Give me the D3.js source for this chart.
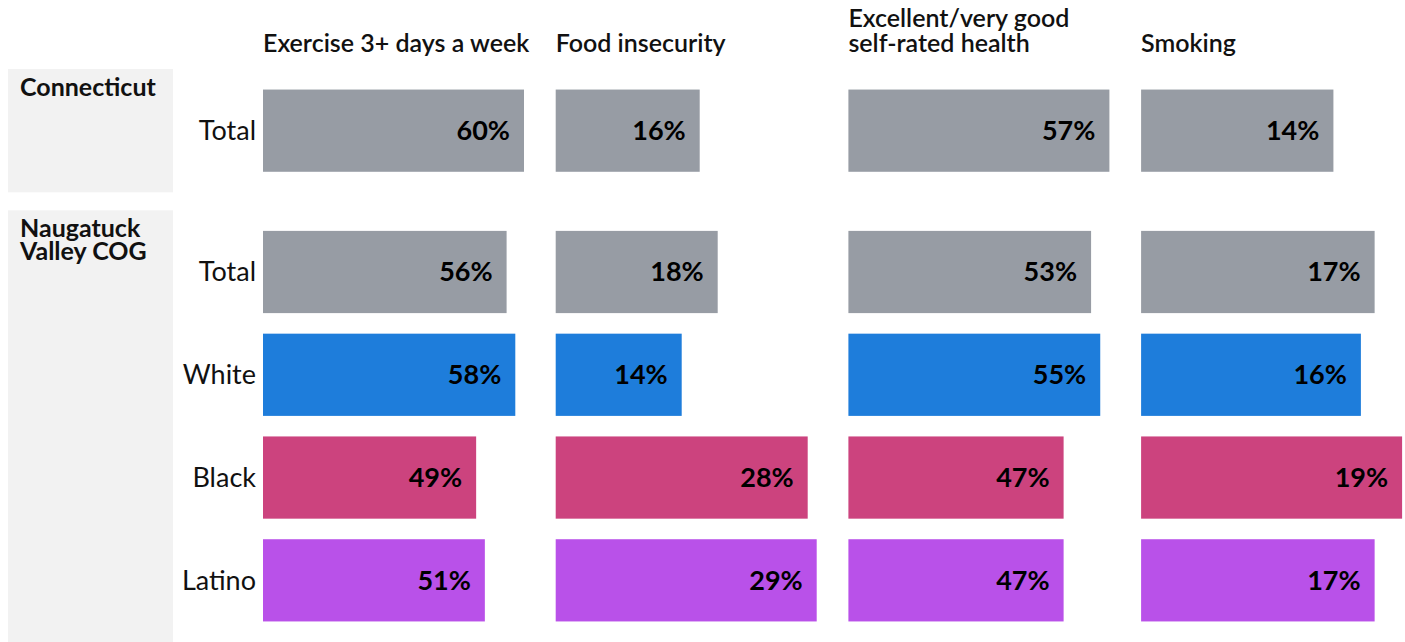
<!DOCTYPE html>
<html>
<head>
<meta charset="utf-8">
<script src="https://cdn.jsdelivr.net/npm/d3@7"></script>
<style>
  body { margin: 0; background: #fff; }
  svg { display: block; font-family: "Source Sans Pro", Lato, "Noto Sans", sans-serif; }
</style>
</head>
<body>
<div id="chart"></div>
<script>
// ---- data ----
const measures = ["Exercise 3+ days a week", "Food insecurity", "Excellent/very good\nself-rated health", "Smoking"];
const regions = ["Connecticut", "Naugatuck Valley COG"];
const ctGroups = ["Total"];
const nvGroups = ["Total", "White", "Black", "Latino"];

// values in order: CT Total, NV Total, NV White, NV Black, NV Latino
const exercise = [60, 56, 58, 49, 51];
const foodInsecurity = [16, 18, 14, 28, 29];
const selfRatedHealth = [57, 53, 55, 47, 47];
const smoking = [14, 17, 16, 19, 17];

const groupColors = { Total: "#979ca4", White: "#1e7ddb", Black: "#cc437e", Latino: "#b951e9" };

// ---- layout ----
const width = 1405, height = 642;
const panelLeft = 263, panelW = 261, panelGap = 31.7;
const plotTop = 69, plotBottom = 642, regionGap = 18;
const stripX = 8, stripW = 165;

const series = [exercise, foodInsecurity, selfRatedHealth, smoking];
const rows = [
  { region: regions[0], groups: ctGroups, offset: 0 },
  { region: regions[1], groups: nvGroups, offset: 1 }
];

const svg = d3.select("#chart").append("svg")
  .attr("width", width).attr("height", height);

// free_y style: panel height proportional to number of bands
const padIn = 0.2, padOut = 0.2;
const units = rows.map(r => r.groups.length - padIn + 2 * padOut);
const unitH = (plotBottom - plotTop - regionGap) / d3.sum(units);

let y0 = plotTop;
rows.forEach((r, ri) => {
  const h = units[ri] * unitH;
  r.y = d3.scaleBand().domain(r.groups).range([y0, y0 + h])
    .paddingInner(padIn).paddingOuter(padOut);
  r.top = y0; r.h = h;
  y0 += h + regionGap;
});

// strip boxes
const strips = svg.selectAll("g.strip").data(rows).join("g").attr("class", "strip");
strips.append("rect")
  .attr("x", stripX).attr("y", d => d.top)
  .attr("width", stripW).attr("height", d => d.h)
  .attr("fill", "#f2f2f2");
strips.append("text")
  .attr("x", 20).attr("y", d => d.top + 27)
  .attr("font-size", 25).attr("font-weight", 700).attr("fill", "#111")
  .selectAll("tspan").data(d => d.region === "Naugatuck Valley COG" ? ["Naugatuck", "Valley COG"] : [d.region])
  .join("tspan").attr("x", 20).attr("dy", (d, i) => i ? 23 : 0).text(d => d);

// row labels
rows.forEach(r => {
  svg.append("g").selectAll("text").data(r.groups).join("text")
    .attr("x", panelLeft - 7)
    .attr("y", d => r.y(d) + r.y.bandwidth() / 2)
    .attr("dy", "0.35em")
    .attr("text-anchor", "end")
    .attr("font-size", 27).attr("fill", "#111")
    .text(d => d);
});

// panels
measures.forEach((m, mi) => {
  const px = panelLeft + mi * (panelW + panelGap);
  const vals = series[mi];
  const x = d3.scaleLinear().domain([0, d3.max(vals)]).range([0, panelW]);
  const g = svg.append("g").attr("transform", `translate(${px},0)`);

  // column header
  const lines = m.split("\n");
  g.append("text")
    .attr("x", 0).attr("y", 52 - (lines.length - 1) * 25)
    .attr("font-size", 25).attr("font-weight", 600).attr("fill", "#111")
    .selectAll("tspan").data(lines).join("tspan")
    .attr("x", 0).attr("dy", (d, i) => i ? 25 : 0).text(d => d);

  rows.forEach(r => {
    const data = r.groups.map((grp, gi) => ({ grp, v: vals[r.offset + gi] }));
    g.selectAll(null).data(data).join("rect")
      .attr("x", 0).attr("y", d => r.y(d.grp))
      .attr("width", d => x(d.v)).attr("height", r.y.bandwidth())
      .attr("fill", d => groupColors[d.grp]);
    g.selectAll(null).data(data).join("text")
      .attr("x", d => x(d.v) - 14)
      .attr("y", d => r.y(d.grp) + r.y.bandwidth() / 2)
      .attr("dy", "0.35em")
      .attr("text-anchor", "end")
      .attr("font-size", 27).attr("font-weight", 700).attr("fill", "#000")
      .text(d => d.v + "%");
  });
});
</script>
</body>
</html>
